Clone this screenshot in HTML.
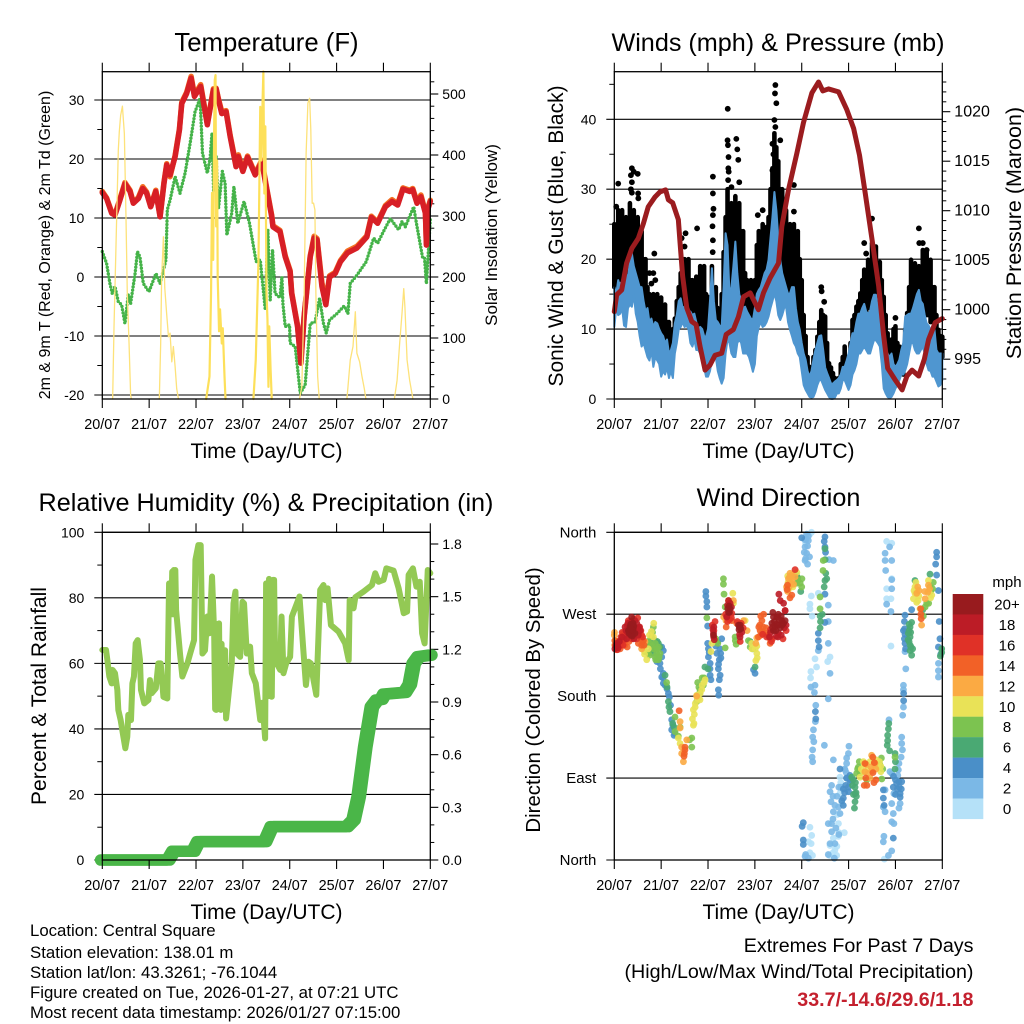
<!DOCTYPE html>
<html>
<head>
<meta charset="utf-8">
<title>Weather station 7-day summary</title>
<style>
html,body{margin:0;padding:0;background:#fff}
svg{display:block}
text{font-family:"Liberation Sans",sans-serif;fill:#000}
.title{font-size:25.2px;text-anchor:middle}
.axis-title{font-size:21px;text-anchor:middle}
.info{font-size:16.8px}
.extreme{font-size:19.7px;text-anchor:end}
</style>
</head>
<body>
<svg id="figure" xmlns="http://www.w3.org/2000/svg" width="1024" height="1024" viewBox="0 0 1024 1024">
  <rect x="0" y="0" width="1024" height="1024" fill="#fff"/>
  <text class="title" x="266.5" y="51" style="font-size:25.7px">Temperature (F)</text>
  <text class="title" x="778" y="51">Winds (mph) &amp; Pressure (mb)</text>
  <text class="title" x="266" y="511">Relative Humidity (%) &amp; Precipitation (in)</text>
  <text class="title" x="778.5" y="506">Wind Direction</text>

  <text class="axis-title" x="266.5" y="458">Time (Day/UTC)</text>
  <text class="axis-title" x="778.5" y="458">Time (Day/UTC)</text>
  <text class="axis-title" x="266.5" y="919">Time (Day/UTC)</text>
  <text class="axis-title" x="778.5" y="919">Time (Day/UTC)</text>

  <text font-size="16" text-anchor="middle" transform="translate(50,245) rotate(-90)">2m &amp; 9m T (Red, Orange) &amp; 2m Td (Green)</text>
  <text font-size="17" text-anchor="middle" transform="translate(497,235) rotate(-90)">Solar Insolation (Yellow)</text>
  <text font-size="21" text-anchor="middle" transform="translate(563,236) rotate(-90)">Sonic Wind &amp; Gust (Blue, Black)</text>
  <text font-size="21.5" text-anchor="middle" transform="translate(1021,233) rotate(-90)">Station Pressure (Maroon)</text>
  <text font-size="21" text-anchor="middle" transform="translate(46,696) rotate(-90)">Percent &amp; Total Rainfall</text>
  <text font-size="20.4" text-anchor="middle" transform="translate(540,700) rotate(-90)">Direction (Colored By Speed)</text>

  <g>
    <text class="info" x="30" y="936">Location: Central Square</text>
    <text class="info" x="30" y="958">Station elevation: 138.01 m</text>
    <text class="info" x="30" y="978">Station lat/lon: 43.3261; -76.1044</text>
    <text class="info" x="30" y="998">Figure created on Tue, 2026-01-27, at 07:21 UTC</text>
    <text class="info" x="30" y="1018">Most recent data timestamp: 2026/01/27 07:15:00</text>
  </g>
  <g>
    <text class="extreme" x="973.5" y="952">Extremes For Past 7 Days</text>
    <text class="extreme" x="973.5" y="978">(High/Low/Max Wind/Total Precipitation)</text>
    <text class="extreme" x="973.5" y="1006" font-weight="bold" style="fill:#c4202e">33.7/-14.6/29.6/1.18</text>
  </g>
</svg>
<script>
// ---- shared x axis ----
const dayTickHours = [0,24,48,72,96,120,144,168];
const dayTickLabels = ['20/07','21/07','22/07','23/07','24/07','25/07','26/07','27/07'];

// ---- temperature panel ----
const tempTicks = [-20,-10,0,10,20,30];
const tempMinorTicks = [-15,-5,5,15,25];
const insolationTicks = [0,100,200,300,400,500];
const insolationMinorTicks = [20,40,60,80,120,140,160,180,220,240,260,280,320,340,360,380,420,440,460,480,520];
const tempHours = [0,2.2,4.8,6.5,9,11.6,14.2,15.9,18.5,20.7,22.7,24.8,27.4,29.6,31.6,33,34.7,37.3,39.5,40.7,43.2,45.5,47.2,50.4,53.8,56.9,58.3,59.5,61.2,63.4,65.5,68.5,69.7,72,74.4,78.3,81.7,84.3,86.8,87.4,91,93.7,96.2,97,100,101.7,103.4,106.5,108.5,110,112.5,114.5,116.4,119.3,122,125.6,130.4,135.5,137.8,141,145,148.4,151.3,154,157.4,159,161.2,163.2,165.5,166,166.7,168];
const temp2m = [14.3,13.3,10.8,10.5,13,15.8,14.5,12.5,13.3,15,14.2,11.9,14.5,10.2,15.9,19,17.3,20.4,24.9,29.4,31.1,33.7,30.6,32.3,25.8,31.7,31.9,30,27.7,28,23.8,18.7,20.4,17.9,20.3,17.3,19.5,14.7,10.2,8.5,7.7,3.4,0.9,-2.8,-8.4,-14.6,-6.7,3.4,6.6,6.3,-1.6,-4.7,0,0.6,2.6,4.1,4.9,6.8,10.1,9.1,11.9,12.8,12.2,14.9,14.5,14.8,12.5,13.6,10.8,5.4,11.4,12.8];
const temp9m = [14.5,13.4,11,10.6,13.2,16,14.7,12.6,13.5,15.3,14.4,12,14.7,10.3,16.1,19.2,17,20.6,25.1,29.6,31.3,34,30.8,32.6,26,31.9,32,30.2,28,28.2,24,19,20.7,18.1,20.5,17.5,19.8,14.9,10.4,8.7,7.9,3.6,1.1,-2.6,-8.2,-14.4,-6.5,3.6,6.9,6.5,-1,-4.2,0.2,0.8,2.8,4.4,5.2,7,10.3,9.3,12.1,13.1,12.4,15.1,14.7,15,12.7,13.9,11,5.6,11.6,13];
const dewHours = [0,2.2,3.9,5.1,6.5,8.2,9.9,11.6,13.3,14.5,16.8,18,19.3,21,23.9,27.5,29.6,32.6,33.3,34.7,37.3,39.8,42.4,45,47.5,50.1,51.3,53.8,55.2,56.2,57,58.3,59.5,61.5,62.9,63.8,66.3,67.4,69.4,72.6,75.4,78.8,80.9,83.4,84.8,86,87.2,88.5,91,92,92.5,93.7,95.9,96.2,98.8,101.4,103.9,106.5,109,111.3,113.3,114.7,116.4,120.2,123.9,125.8,127,130.4,135.2,139,141,144,147.5,151.8,153.5,155.2,159.5,160.9,164,165,166,168];
const dewPoints = [4.3,2.3,-1.1,-2.8,-1.6,-4.2,-4.7,-7.9,-3,-4.5,0.6,4.3,3.4,-1.1,-2.5,0.6,-1.1,2.9,11.4,13,17,14.2,17.6,22.7,28,30.3,21,17.6,20.1,24.4,14.5,20.4,11.6,17.9,15.9,7.1,10.8,15.3,9.1,12.8,9.1,2.6,2.9,-5.3,8,-3.9,4.6,-2.8,-3.5,0,-4.5,-8.4,-8.1,-11.2,-11.8,-19.7,-18.3,-7.9,-7.6,-3.6,-7.9,-9.5,-7.3,-6.2,-4.9,-6.2,-1.1,0.3,2.6,6.6,5.7,7.7,9.9,8,9.4,8.5,11.9,9.1,3.4,3.4,-1.1,9.7];
const solarHoursByDay = [
  [5.3,6,7,8.2,8.7,9.4,10.3,11.3,12.1,12.8,13.7,14.5,14.9],
  [29.2,29.9,30.4,31.3,32,33,33.9,34.7,35.6,36.4,37.3,38.1,39],
  [53.2,54.9,55.7,56.2,56.8,57.3,57.6,58,58.3,58.8,59.1,59.8,60.3,61.2,61.7,62.6,63.1],
  [77.4,78.6,80,80.9,81.5,82.1,82.5,83,83.5,84.1,84.6,85.1,85.5,86.2,86.8],
  [101,102.2,103.4,104.4,105.3,106.2,106.8,107.5,108.2,108.9,109.4,110.3,111.1],
  [125.3,127,128.4,129.6,130.4,131.8,133,134.2,135],
  [149.6,151,152.3,153.5,154.4,155,156.1,157.4,159.1]
];
const solarValuesByDay = [
  [0,118,250,408,438,465,480,435,304,173,91,7,0],
  [0,91,200,266,182,138,102,108,61,86,53,17,0],
  [0,37,173,338,228,447,523,531,283,391,200,111,147,91,116,37,0],
  [0,64,228,479,391,490,537,337,447,173,130,20,119,48,0],
  [0,20,173,403,485,493,441,321,321,310,173,37,0],
  [0,64,86,143,75,61,37,17,0],
  [0,31,91,140,181,151,64,31,0]
];

// ---- winds panel (hourly values, index = hour) ----
const windTicks = [0,10,20,30,40];
const windMinorTicks = [5,15,25,35,45];
const pressureTicks = [995,1000,1005,1010,1015,1020];
const pressureMinorTicks = [992,993,994,996,997,998,999,1001,1002,1003,1004,1006,1007,1008,1009,1011,1012,1013,1014,1016,1017,1018,1019,1021,1022,1023];
const windLow = [10.3,13,12,12.2,13,10.5,10.3,13,13.5,13.2,15,12.2,11,9,7.5,8,7,6,5.5,7,4.6,6,5.5,5,3.2,4,3.5,4.5,3,4,3,6.5,8,10,10.3,11,10.3,10.5,10,8,7.5,8.5,7,7,6.5,6,4.5,3.2,3.2,4,5.6,6,6,4,3,2.2,3,6.5,8.5,8,6.5,6,6,8,8.5,8,6.5,6.5,6.5,6,5,3.9,5,9,10.3,11,10.3,10.5,11,11.8,13,14,15.1,14,12,11.3,12,13,13.2,11,9.9,9,8,7.5,6.5,6,4,2,1.3,0.8,0.3,0.2,0.3,1,2,2.7,2.7,2,1.3,0.8,0.3,0,0,0.2,0.8,0.8,1.5,2.7,2.7,2,1.3,2,3.5,4.1,5,6.5,6.5,7,7.5,7,6.5,6.5,7.5,8.4,8.4,8,7.5,5,1.5,0.8,0.3,0.1,0.3,0.8,1.5,2,2.7,3.5,3.5,4.1,5,6.5,8,8,7,6.5,6.5,7,7.5,6.5,5,4.1,4,3.2,3.2,2.5,1.8,2,2.7];
const windHigh = [16,15,17,16,17,16,18,17,20,20.8,19,18,17,16,16,14,12.5,13,11,11.5,10.3,11,10.8,10,9.4,9,8,8.5,6.5,7,8,10.8,12,14,14.4,13,13.2,12,11.8,12.5,12,12.2,11,10,10.3,10,9,8.9,10,14,18.7,14,11.3,11,10.5,10.3,16,23.7,22,15,16,19,22.5,18,15,14.1,13,13.2,12.5,12,11.5,11.3,13,15,15.6,16,17,18,18.5,19.9,23,26,29.6,27,23,19.9,18,17,16,15,15.1,16,16,13,11,9.9,8,6.5,5.6,4,3.2,4,5.6,7,8,9,9.1,7,4.5,3.7,3,2.2,2.2,2.5,2.7,3,3.5,4.6,4.6,5.5,6.5,8,9.4,9.4,11,12.2,12.2,13,13.6,12.5,12.2,12.5,14,14.9,14.9,13,11.3,9,8,7,6.5,6,6.5,5,4.6,5,5.6,7,8,11.8,12,12.2,12.2,13,14,15,15.6,14,13.6,12,10.8,10.5,9.9,10,9.9,7,6.5,6.5,6.5];
const gustTop = [25,24,27,22,27,24,26,23,28,26,27,23,26,22,24,20,20,16,15,13.5,15,13,15,12.5,14.5,12,13.5,11,11,9,10,11.5,14,16,18,16,20,17,20,17,17,15,17.5,16,19,16,19,15,14.6,13,19,15,16,13,12,15,21,26,30,26,28,23,29,25,28,24,24,18,17,14,17,13,17,22,24,21,25,22,24.6,26,30,33,38,36,34,30,30,25,27,24,25,22,25,23,24,20,17,12,9,6,4.6,4,6,7,8.9,11,12.7,12,11.8,8,5.1,4.5,3.7,3,2.5,3,5,6,7.5,6,5.1,8,11.3,12,13.2,14,15.1,17,18.5,17,19.9,17,22.3,19,21.8,18,19.6,17,14.6,12,9.4,8,8.5,10,10.4,8,7.5,7,7.5,10,12.3,16,19.9,17,19.4,16,19,18,21.3,18,21,17,19.9,16,16,12,9.9,9,8.9];
const gustBottom = [16,16,17,17,18,18,18,19,19,19,18,17,17,16,15,14,12,11,10,8,10,9,9,8,7.5,8,7,8,6.5,8,6,9,10,12,13,13,12,12,12,12,11,10,10,9,10,9,8,6,8,9,9,9,9,9,8,9,13,16,17,16,14,14,16,16,15,14,12,10,9,9,9,10,11,13,15,15,15,15,15,15,16,18,20,20,18,17,15,15,15,14,13,12,13,12,12,11,9,7,3.7,3,3,2.5,3,4,5,6,7.5,7,6,4,3,2.5,2,1.5,1.5,2,3,3.5,4,3.5,3.5,5,7,7.5,8,9,10,11,12,12,13,13,13,13,13,12,12,11,10,8,6,4,3,5,4,4,4,4,3.5,5,7,10,12,12,12,12,12,12,12,12,12,12,11,11,10,7,6,6,6];
const gustOutlierHours = [2,9,8.5,9,8.5,9,10,12,12.2,12.3,1,18,19,20.5,20,21,36.5,36,34.5,42.4,50.5,50.5,50.8,50.5,50.3,50.5,50.4,58.1,58,58.2,58.5,58.4,58.6,58.3,60,62.5,63,63.5,64,73.5,76,81,81.5,81,82.5,82.3,83,82,82.5,85,92,92,106,106.2,107.5,128,129,132,156,156.2,158,160,144];
const gustOutlierValues = [30.8,33,32,31,30,29.5,32.5,32.2,29.4,28.7,27.5,18,16.5,20.8,18,17,23.7,21.8,23,24.4,31.8,29.4,27.2,26.3,24.7,22.7,21,41.5,37,36.3,34.6,33,32.5,31.3,30.3,37.2,35.7,34.2,31,26.3,27,36.5,35,32.7,44.9,43.7,42.3,39.9,38.9,37,30.6,26.8,16,15.4,13.9,22.3,20.8,25.8,24.4,22.3,22.3,21.3,11.6];
const pressureHours = [0,1.2,3.8,6.3,9,12.3,14.9,17.4,20.9,23.4,26.3,27.7,29.9,32.8,33.7,35,37.1,39.7,41.9,43.9,46.5,49,51.6,55,57.3,61,63.6,66.2,69.6,73.8,76.4,79.8,84.1,85.8,89.2,93.5,96.9,101.2,104.6,106.8,109.7,114.9,119.1,122.6,125.6,128.5,132,135.4,137.9,140,143.9,147.4,149.9,152.5,155.9,158.8,161,164.4,168];
const pressureValues = [999.8,1001.5,1002,1004.7,1006.2,1007.2,1008.7,1010.4,1011.4,1011.9,1012.1,1011.1,1010.8,1009.1,1006.7,1003.4,1000.2,998.8,998.5,996.3,993.9,994.4,995.4,995.6,997.5,998,999.3,1001.3,1001.7,1000,1001.7,1003.2,1004.7,1008.4,1012.1,1015.8,1018.9,1021.9,1023,1022.1,1022.3,1022,1020.2,1018.3,1015.6,1011.8,1007.1,1002.4,997.5,994.1,992.9,991.9,993.3,993.9,993.3,995,997,998.7,999.1];

// ---- humidity and precipitation panel ----
const humidityTicks = [0,20,40,60,80,100];
const humidityMinorTicks = [10,30,50,70,90];
const rainTicks = [0,0.3,0.6,0.9,1.2,1.5,1.8];
const rainTickLabels = ['0.0','0.3','0.6','0.9','1.2','1.5','1.8'];
const rainMinorTicks = [0.1,0.2,0.4,0.5,0.7,0.8,1.0,1.1,1.3,1.4,1.6,1.7];
const rhHours = [0,1.9,2.6,3.6,4.8,5.3,6.5,7.7,8.2,9.4,10.8,11.8,12.8,13.3,14.7,15.4,16.2,17.1,18.1,19.3,19.8,21.5,23.6,24.4,25.3,27.4,28.7,29.9,31.3,33.3,34.2,34.6,35,35.4,35.8,36.2,36.6,37,37.4,37.8,39.8,41,43.6,45,47,47.7,49.2,50.4,51.3,52.6,53.8,54.9,56.2,57.3,57.8,58.3,58.8,59.2,59.8,60.2,60.7,61.1,61.6,62,62.4,62.9,63.4,66.3,67.2,68.2,68.9,70.6,71.8,72.6,74,75.7,76.6,78.6,80.9,82,83.4,83.9,84.2,84.6,85,85.4,85.8,86.3,86.8,87.4,88,88.5,91.1,91.8,92.8,94.2,96.2,97.1,101,103.1,104.3,105.6,106.8,108.2,109.6,111.6,113.3,114.2,115.4,117.1,121,124.4,126.2,126.7,128.7,129.6,133.8,138.1,139.8,141.5,144.1,145.5,149.2,151.8,154.4,156.1,156.9,159.1,160.9,162.6,163.8,165.1,166.7,168];
const rhValues = [64.1,64.1,61,56,53.9,58,57,51.9,45.8,42.7,37.6,34.1,37.6,44.3,42.7,53.9,56,66.1,67.1,61,51.9,47.8,48.8,54.9,50.9,52.4,60,60,49.8,49.3,84.4,75,84,75,88,75,88.5,76,88.5,76.3,63,56,60,63,67.1,91.6,96.1,96.1,63,64,74.3,69.2,86.5,69.2,46,45.8,72,46,72.2,46,45.8,66,50,64,50,64,43.2,60,78.3,81.9,63,62,78.8,78.3,63,65.1,57,53.9,42.7,48,37.1,84.4,50,84,50,85.8,50,85,49.8,85.5,85.5,61,58,74.3,57,60,62,74.3,80.4,63,53.4,60.5,60,54.9,50.4,82.4,83.9,79.3,82.9,71.7,69.7,66.1,61,79.3,76.8,80.2,81.9,83.9,87.5,84.9,85.5,89,88.3,82.9,75.3,75.8,87,89,83.4,84.9,69.2,66.1,88.5,87.5];
const rainHours = [0,33.8,36.4,46.7,49.2,83.4,86.8,125.3,128.7,131.3,134.7,138.1,140.7,143,144.5,155,157.5,159.5,162,168];
const rainValues = [0,0,0.05,0.05,0.105,0.105,0.19,0.19,0.228,0.36,0.645,0.873,0.911,0.915,0.945,0.955,1,1.12,1.158,1.167];

// ---- wind direction panel ----
const directionTicks = [0,90,180,270,360];
const directionLabels = ['North','East','South','West','North'];
const speedLabels = ['0','2','4','6','8','10','12','14','16','18','20+'];
const speedColors = ['#b5e1f8','#7bb8e6','#4a8fc8','#4aa973','#7cc350','#e9e257','#fbaa43','#f26127','#e03127','#bc1c26','#981b1e'];
const dirCalm = [[100.2,358],[100.2,281],[100.2,276],[104.5,293],[102.8,221],[103.6,212],[100.7,207],[109.3,218],[110.5,223],[100.5,200],[100.2,36],[101.1,27],[100.8,18],[100.2,8],[114.8,26],[112.2,24],[110.5,16],[113,11],[113.9,5],[115.6,73],[115.6,91],[116.5,62],[114.8,40],[139.5,350],[142.1,348],[142.1,309],[139.5,298],[139.5,287],[141.7,287],[141.7,235],[138.3,1],[98,348],[101,360],[100.9,290],[101.3,268],[110.2,5],[112,8],[114,15],[115,30],[114.3,50],[116,85],[117.8,30],[99.5,20],[101.5,5]];
const dirSpeed2 = [[98.5,358],[99.4,351],[97.7,344],[98.5,337],[98,331],[97.7,329],[99.4,356],[109.6,280],[109.6,262],[109.6,238],[112.2,329],[110,330],[104.5,230],[110.5,205],[100.7,190],[102.8,192],[102.5,184],[109.6,177],[103.2,170],[103,152],[102,143],[101.6,135],[102.2,130],[101.6,121],[101.3,113],[101.6,108],[107.6,126],[98,6],[99.4,2],[97.7,4],[111.3,82],[110.5,75],[111,64],[112.2,53],[114.8,58],[115.6,51],[111.3,40],[109.6,40],[111.3,31],[113,18],[110.5,18],[112.7,2],[109.6,6],[112.2,110],[119,106],[119.9,117],[120.2,125],[118.2,99],[119,90],[140.7,154],[141.2,97],[142.1,95],[138.7,77],[137.8,58],[138.7,53],[147.2,135],[147.2,128],[147.6,121],[146.9,113],[145.8,106],[145.5,99],[145.2,93],[146.4,62],[145.8,57],[142.9,51],[142.1,62],[143.2,73],[142.1,42],[143.2,40],[138.1,26],[137.8,20],[142.1,10],[140.4,5],[148.9,229],[149.3,210],[148.1,192],[148.1,187],[148.1,168],[147.7,159],[138.7,337],[138.7,329],[142.1,329],[139,318],[142.1,308],[142.1,298],[139.5,281],[141.7,273],[141,344],[166,216],[166,208],[166,201],[99,345],[98.2,352],[100,333],[99,325],[97.5,352],[97.3,338],[118,100],[119,112],[118.8,96],[116,80],[115,80],[114,70],[113,60],[112,45],[113.5,35],[115,28],[112,70]];
const dirSpeed4 = [[24.3,234],[23.4,216],[24.3,223],[22.6,220],[25.1,230],[25.1,205],[24.3,201],[25.1,194],[27.7,183],[28.2,179],[29.4,154],[29.4,143],[31.1,139],[28.8,170],[46.9,295],[46.9,290],[47.4,284],[47.4,278],[47.8,257],[47.8,238],[48.2,232],[48.2,223],[49.1,216],[49.1,203],[49.5,198],[52.5,227],[53.8,220],[54.5,227],[55,243],[53.3,210],[53.8,198],[53.3,187],[53.5,181],[54.2,203],[53,240],[52,235],[71.3,209],[72.1,205],[96,354],[96.8,41],[96.2,37],[96.8,22],[96.8,17],[107.9,355],[107.5,350],[107.9,344],[108.2,338],[107.9,292],[107.9,261],[104.5,249],[104.5,241],[104.9,234],[103,163],[103.2,155],[117.3,78],[117.3,68],[117.3,60],[115.6,100],[120.7,93],[120.7,86],[119.9,80],[137.8,77],[137.8,68],[138.2,60],[144,88],[146.4,73],[146.4,69],[142.9,80],[144.6,84],[145.8,86],[147.2,86],[142.9,24],[148.9,269],[148.6,262],[148.1,252],[148.6,243],[148.9,238],[148.2,183],[148.2,175],[152.3,275],[165.1,338],[165.1,333],[164.6,325],[165.1,313],[166,296],[166.4,262],[166.8,243],[166,234],[167.2,226],[21.8,218],[23.6,210],[25,200],[26,192],[30,148],[30.6,137],[27,188],[49,210],[48.6,228],[53.4,215],[54.6,222],[54,232],[119,90],[118.5,82],[118,74],[116.5,65],[120,75],[121,88],[143,92],[145,78],[144,72],[146,80],[147,78],[148.7,254],[148.9,248],[149.2,232]];
const dirSpeed6 = [[18.3,241],[20.9,241],[22.6,238],[23.4,234],[20,227],[26,203],[27.7,174],[28.5,163],[29.9,150],[30.6,146],[46.4,212],[71,232],[69.6,240],[72.1,212],[93.3,313],[95.5,295],[94,310],[107.9,342],[107.9,307],[108.8,309],[107.5,300],[105.4,268],[105.4,255],[123.3,80],[122.4,88],[121.6,91],[123.3,64],[123.3,73],[140.4,144],[140,137],[140,131],[139.8,126],[143.8,117],[144,108],[143.8,100],[151.5,256],[150.6,249],[151.5,245],[151.5,236],[151.5,230],[152.3,225],[152.3,261],[154,307],[161.7,314],[167.7,232],[167.7,228],[167,224],[158,275],[19,243],[20,236],[21.5,233],[22,240],[19,230],[124,70],[123.5,85],[122.5,72],[122,82],[123,57],[123.8,74],[151,252],[151,240],[151.8,250],[152,234],[150.5,242],[152.8,232],[151,259],[108,330],[108.3,315],[106.5,270],[105.6,262],[48,210],[27,190],[28,168],[141,120],[140.6,150]];
const dirSpeed8 = [[19.1,245],[18.3,238],[22.6,234],[23.4,227],[21.7,227],[17.4,227],[15.7,229],[20,256],[20.9,223],[22.6,220],[26.8,195],[31.1,157],[33.7,146],[31.1,141],[32.8,136],[39.7,134],[39.7,124],[38.6,132],[42.7,195],[43.6,183],[43.9,187],[45.6,192],[42.2,174],[47.4,266],[52,240],[55.9,309],[55.9,303],[56.2,292],[56.8,278],[56.8,233],[61.9,245],[62.4,237],[68.7,241],[69.6,234],[93.5,304],[95.2,304],[96.1,309],[107,329],[106.9,318],[105.4,289],[105.4,276],[125,102],[124.1,95],[129.3,88],[137,89],[136.8,112],[143.8,113],[159.2,278],[158.3,268],[161.7,300],[163.4,305],[19,235],[20,232],[21,238],[22,232],[23,223],[19.6,250],[17,240],[16,236],[18,225],[21.2,220],[124.6,100],[125.5,108],[126,96],[137.5,100],[136,105],[46,200],[43.3,190],[45,200],[52,243],[53,238],[62,241],[161,282],[162,295],[163,298],[160,282],[94,307],[96,300]];
const dirSpeed10 = [[14.9,231],[17.4,232],[20,245],[16.6,220],[20.2,260],[32.8,134],[33.7,128],[40.5,148],[40.5,165],[41.4,168],[43.1,177],[43.9,176],[44.8,187],[46.5,198],[42.2,181],[40,155],[50,238],[49.5,229],[60.7,293],[61,282],[67,263],[73,227],[72.5,219],[70.4,238],[72.2,232],[90.1,300],[93.5,316],[89,305],[125.9,91],[127.6,108],[127.6,97],[135.2,102],[136.5,97],[130,100],[154,300],[154,293],[154.9,283],[153.2,287],[162.6,291],[160.9,307],[156.6,276],[156,290],[90,308],[88.8,312],[89.4,298],[91.5,300],[41,160],[41.5,172],[40.8,150],[42.5,178],[44,183],[45,192],[46,195],[126.5,100],[128,105],[131,108],[134.2,110],[135.8,108],[136.5,103],[154.5,305],[153.5,296],[155,297],[155.6,285],[161.2,295],[162,288],[18,247],[19,251],[15.5,226],[73,235],[73.2,222],[70.5,232]];
const dirSpeed12 = [[0,247],[0.3,241],[14,232],[15.7,240],[33.7,152],[33.7,145],[34.5,124],[35.4,108],[37.1,132],[34.5,117],[42.2,180],[58.5,285],[61,285],[56,267],[57.2,263],[66.2,263],[68,252],[72.5,238],[73,244],[89.2,309],[90.9,313],[92.6,311],[88.8,295],[128.4,97],[131.5,102],[133.5,106],[131.8,115],[154.9,293],[159.2,287],[160.9,302],[157.4,258],[0.2,236],[0.1,250],[89.5,300],[90,315],[91,308],[91.8,303],[90.4,304],[89.8,311],[88.2,300],[129,105],[130,95],[131,90],[132,98],[133,105],[134,100],[156,296],[155.4,300],[159,295],[160.5,294],[161.5,298]];
const dirSpeed14 = [[2.9,241],[4.6,249],[0.3,241],[1.2,231],[6.6,234],[13.2,245],[14.9,241],[14,236],[12.3,238],[3,232],[33.2,164],[36.2,124],[35.7,114],[36.2,121],[35.9,117],[57.3,256],[60.2,263],[62.7,260],[75.6,263],[76.4,256],[74.7,252],[77.3,249],[79.8,238],[73.8,245],[74.5,258],[88.7,302],[90.9,291],[128.4,106],[128.8,90],[133.2,107],[132.4,113],[156.9,276],[157.2,265],[1.8,240],[3.6,238],[5.4,236],[5,245],[6.2,242],[7.5,240],[14.4,240],[15.2,236],[74,256],[75,247],[76,250],[77.8,255],[78.5,247],[80,242],[75,268],[76.5,270],[128,82],[129.4,82],[133,85],[134,88],[132.5,96],[157,270],[88.5,297],[90,288]];
const dirSpeed16 = [[2.1,234],[3.8,241],[5.5,247],[7.2,263],[11.5,243],[13,256],[14,247],[8,262],[10,265],[4.5,236],[12,266],[51.6,262],[51,252],[57.6,267],[60.2,271],[58,262],[65,260],[64.5,240],[86.4,243],[87.5,274],[80.5,240],[92.6,319],[0.6,236],[1.6,231],[3,236],[3.4,245],[4,250],[5,242],[6.6,258],[9,243],[12.5,250],[13.6,252],[14.5,245],[50.2,258],[57,270],[59,264],[60,266],[63,262],[66,255],[76,248],[78,245],[80,253],[81,243],[88,252]];
const dirSpeed18 = [[0.3,232],[1.2,238],[6.3,243],[11.5,260],[12.3,247],[13.2,252],[5.5,256],[10.6,263],[2,233],[12,255],[50.8,249],[51,256],[58.5,285],[59.3,282],[57.6,267],[64.4,245],[65.3,250],[84.1,249],[84.3,292],[85,285],[86.7,282],[87.5,274],[83,246],[79.5,245],[1,235],[1.6,236],[2.6,240],[4,245],[6,252],[6.8,250],[11,252],[11.8,254],[12.8,256],[7,260],[9,262],[10,243],[50.5,253],[50.9,245],[51.2,242],[58,280],[60,278],[80,250],[83.8,245],[85.5,247],[87,255],[88,258],[64.2,248]];
const dirSpeed20 = [[7.2,252],[8,256],[8.9,251],[9.7,254],[8.5,247],[10.6,249],[8.9,267],[8.9,256],[9.5,250],[58.1,276],[59,272],[64.1,256],[63.6,258],[64.8,254],[81.5,267],[80.7,260],[82.4,256],[83.2,267],[85.8,263],[81.5,252],[86.7,260],[87.5,263],[84,258],[81.2,272],[50.8,247],[7.6,249],[8.4,259],[9.2,246],[10,257],[7.9,252],[9,253],[8.2,254],[9.6,260],[58.5,272],[58.8,279],[59.3,276],[63.9,253],[64.5,258],[82,262],[83,259],[84.5,264],[85,255],[86,258],[82.8,252],[85.5,268],[84,270],[81,256]];
const directionByClass = [dirCalm,dirSpeed2,dirSpeed4,dirSpeed6,dirSpeed8,dirSpeed10,dirSpeed12,dirSpeed14,dirSpeed16,dirSpeed18,dirSpeed20];

// ---- drawing helpers ----
const SVGNS = 'http://www.w3.org/2000/svg';
const figure = document.getElementById('figure');
function linear(d0, r0, d1, r1) {
  return function (v) { return r0 + (v - d0) * (r1 - r0) / (d1 - d0); };
}
function make(tag, parent, attrs) {
  const el = document.createElementNS(SVGNS, tag);
  Object.keys(attrs).forEach(function (k) { el.setAttribute(k, attrs[k]); });
  parent.appendChild(el);
  return el;
}
function pointsOf(hours, values, xs, ys) {
  return hours.map(function (h, i) { return xs(h).toFixed(2) + ',' + ys(values[i]).toFixed(2); }).join(' ');
}
function group(parent, name) {
  const g = make('g', parent, {});
  
  
  return g;
}
function drawLine(parent, name, hours, values, xs, ys, stroke, width, extra) {
  const line = make('polyline', parent, Object.assign({
    points: pointsOf(hours, values, xs, ys), fill: 'none', stroke: stroke,
    'stroke-width': width, 'stroke-linejoin': 'round', 'stroke-linecap': 'round'
  }, extra || {}));
  
  
  return line;
}
function drawText(parent, name, x, y, content, anchor, size) {
  const t = make('text', parent, { x: x, y: y, 'text-anchor': anchor, 'font-size': size });
  t.textContent = content;
  
  
  return t;
}
function drawSegment(parent, name, x1, y1, x2, y2, width) {
  const s = make('line', parent, { x1: x1, y1: y1, x2: x2, y2: y2, stroke: '#000', 'stroke-width': width });
  
  
  return s;
}
function drawGrid(parent, panel, box, ticks, ys, labels, size) {
  const g = group(parent, panel + '-left-axis');
  ticks.forEach(function (v, i) {
    drawSegment(g, panel + '-gridline', box.left - 8, ys(v), box.right, ys(v), 1.1);
    drawText(g, panel + '-left-tick-label', box.left - 18, ys(v) + 5, labels ? labels[i] : String(v), 'end', size || 14);
  });
}
function drawFrame(parent, panel, box, xs) {
  const g = group(parent, panel + '-frame');
  const frame = make('rect', g, { x: box.left, y: box.top, width: box.right - box.left, height: box.bottom - box.top, fill: 'none', stroke: '#000', 'stroke-width': 1.3 });
  
  
  dayTickHours.forEach(function (h, i) {
    drawSegment(g, panel + '-top-tick', xs(h), box.top - 9, xs(h), box.top, 1.1);
    drawSegment(g, panel + '-bottom-tick', xs(h), box.bottom, xs(h), box.bottom + 9, 1.1);
    drawText(g, panel + '-x-tick-label', xs(h), box.bottom + 30, dayTickLabels[i], 'middle', 14.4);
  });
}
function drawLeftMinor(parent, panel, box, ticks, ys) {
  const g = group(parent, panel + '-left-minor-ticks');
  ticks.forEach(function (v) {
    drawSegment(g, panel + '-left-minor-tick', box.left - 5, ys(v), box.left, ys(v), 1);
  });
}
function drawRightAxis(parent, panel, box, major, minor, ys, labels, size) {
  const g = group(parent, panel + '-right-axis');
  major.forEach(function (v, i) {
    drawSegment(g, panel + '-right-tick', box.right, ys(v), box.right + 8, ys(v), 1.1);
    drawText(g, panel + '-right-tick-label', box.right + 12, ys(v) + 5, labels ? labels[i] : String(v), 'start', size || 14);
  });
  minor.forEach(function (v) {
    drawSegment(g, panel + '-right-minor-tick', box.right, ys(v), box.right + 4, ys(v), 1);
  });
}

// ---- panel geometry ----
const leftBox = { left: 102.3, right: 430.3, top: 71.7, bottom: 399 };
const rightBox = { left: 614.3, right: 942.3, top: 71.7, bottom: 399 };
const lowerLeftBox = { left: 102.3, right: 430.3, top: 532.3, bottom: 860 };
const lowerRightBox = { left: 614.3, right: 942.3, top: 532.3, bottom: 860 };
const xLeft = linear(0, 102.3, 168, 430.3);
const xRight = linear(0, 614.3, 168, 942.3);
const yTemp = linear(-20, 395, 30, 100);
const ySolar = linear(0, 399, 500, 94);
const yWind = linear(0, 399, 40, 119.3);
const yPressure = linear(995, 359.2, 1020, 111.7);
const yHumidity = linear(0, 860, 100, 532.3);
const yRain = linear(0, 860, 1.8, 544);
const yDirection = linear(0, 860, 360, 532.3);

// ---- temperature panel ----
const tempPanel = group(figure, 'temperature-panel');
drawGrid(tempPanel, 'temperature', leftBox, tempTicks, yTemp);
drawLeftMinor(tempPanel, 'temperature', leftBox, tempMinorTicks, yTemp);
drawRightAxis(tempPanel, 'insolation', leftBox, insolationTicks, insolationMinorTicks, ySolar);
drawLine(tempPanel, 'dew-point-2m-line', dewHours, dewPoints, xLeft, yTemp, '#45b349', 3.4, { 'stroke-dasharray': '0 3.3' });
drawLine(tempPanel, 'temperature-9m-line', tempHours, temp9m, xLeft, yTemp, '#f36f21', 5.5);
drawLine(tempPanel, 'temperature-2m-line', tempHours, temp2m, xLeft, yTemp, '#d71f26', 5.5);
solarHoursByDay.forEach(function (hours, i) {
  const denseDay = i === 2 || i === 3;
  drawLine(tempPanel, 'solar-insolation-day-' + (i + 1), hours, solarValuesByDay[i], xLeft, ySolar, denseDay ? '#fde05a' : '#fde27a', denseDay ? 2.2 : 1.3);
});
drawFrame(tempPanel, 'temperature', leftBox, xLeft);

// ---- winds panel ----
const windPanel = group(figure, 'winds-panel');
drawGrid(windPanel, 'winds', rightBox, windTicks, yWind);
drawLeftMinor(windPanel, 'winds', rightBox, windMinorTicks, yWind);
drawRightAxis(windPanel, 'pressure', rightBox, pressureTicks, pressureMinorTicks, yPressure, null, 16);
const gustGroup = group(windPanel, 'gust-points');
gustTop.forEach(function (top, hour) {
  const bar = make('line', gustGroup, { x1: xRight(hour), x2: xRight(hour), y1: yWind(top), y2: yWind(gustBottom[hour]), stroke: '#000', 'stroke-width': 4.6, 'stroke-linecap': 'round' });
  
  
});
gustOutlierHours.forEach(function (h, i) {
  const dot = make('circle', gustGroup, { cx: xRight(h), cy: yWind(gustOutlierValues[i]), r: 2.9, fill: '#000' });
  
  
});
const windHours = windHigh.map(function (_, hour) { return hour; });
const bandTop = pointsOf(windHours, windHigh, xRight, yWind);
const bandBottom = pointsOf(windHours.slice().reverse(), windLow.slice().reverse(), xRight, yWind);
const windBand = make('polygon', windPanel, { points: bandTop + ' ' + bandBottom, fill: '#4f96d0', stroke: '#4f96d0', 'stroke-width': 2, 'stroke-linejoin': 'round' });


drawLine(windPanel, 'pressure-line', pressureHours, pressureValues, xRight, yPressure, '#9b1c1f', 5);
drawFrame(windPanel, 'winds', rightBox, xRight);

// ---- humidity panel ----
const humidityPanel = group(figure, 'humidity-panel');
drawGrid(humidityPanel, 'humidity', lowerLeftBox, humidityTicks, yHumidity);
drawLeftMinor(humidityPanel, 'humidity', lowerLeftBox, humidityMinorTicks, yHumidity);
drawRightAxis(humidityPanel, 'rainfall', lowerLeftBox, rainTicks, rainMinorTicks, yRain, rainTickLabels);
drawLine(humidityPanel, 'relative-humidity-line', rhHours, rhValues, xLeft, yHumidity, '#93c954', 6);
drawLine(humidityPanel, 'total-rainfall-line-left', rainHours, rainValues, function (h) { return xLeft(h) - 1.7; }, yRain, '#4ab648', 11.5);
drawLine(humidityPanel, 'total-rainfall-line-right', rainHours, rainValues, function (h) { return xLeft(h) + 1.7; }, yRain, '#4ab648', 11.5);
drawFrame(humidityPanel, 'humidity', lowerLeftBox, xLeft);

// ---- wind direction panel ----
const directionPanel = group(figure, 'direction-panel');
drawGrid(directionPanel, 'direction', lowerRightBox, directionTicks, yDirection, directionLabels, 15);
const directionPoints = group(directionPanel, 'direction-points');
directionByClass.forEach(function (samples, c) {
  samples.forEach(function (s) {
    const dot = make('circle', directionPoints, { cx: xRight(s[0]), cy: yDirection(s[1]), r: 3.4, fill: speedColors[c], 'fill-opacity': 0.9 });
    
    
  });
});
drawFrame(directionPanel, 'direction', lowerRightBox, xRight);

// ---- speed legend ----
const legend = group(figure, 'speed-legend');
drawText(legend, 'legend-title', 1007, 587, 'mph', 'middle', 15);
speedLabels.slice().reverse().forEach(function (label, i) {
  const box = make('rect', legend, { x: 952.7, y: 594 + i * 20.45, width: 30.6, height: 20.6, fill: speedColors[10 - i] });
  
  
  drawText(legend, 'legend-label-' + label, 1007, 594 + i * 20.45 + 15.5, label, 'middle', 15);
});
</script>
</body>
</html>
